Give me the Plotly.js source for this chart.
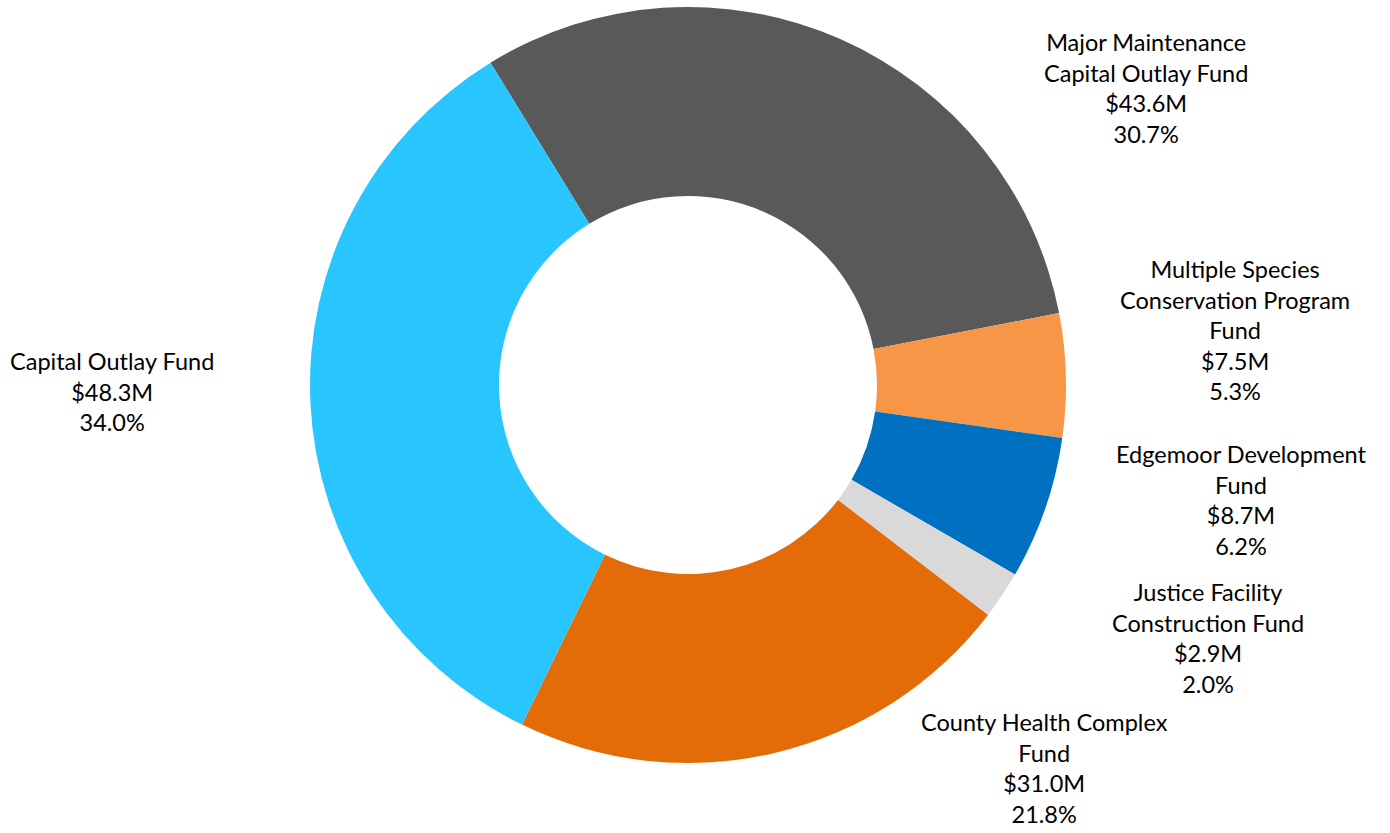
<!DOCTYPE html>
<html>
<head>
<meta charset="utf-8">
<script src="https://cdn.plot.ly/plotly-3.0.1.min.js"></script>
<style>html,body{margin:0;padding:0;background:#fff;}#chart{width:1390px;height:833px;}</style>
</head>
<body>
<div id="chart"></div>
<script>
const labels = ["Major Maintenance<br>Capital Outlay Fund", "Multiple Species<br>Conservation Program<br>Fund", "Edgemoor Development<br>Fund", "Justice Facility<br>Construction Fund", "County Health Complex<br>Fund", "Capital Outlay Fund"];
const valuesM = [43.6, 7.5, 8.7, 2.9, 31.0, 48.3];
const percents = ["30.7%", "5.3%", "6.2%", "2.0%", "21.8%", "34.0%"];
const colors = ["#595959", "#F79646", "#0070C0", "#D9D9D9", "#E36C09", "#29C5FF"];

// layout: label block centres in pixels (x from left, y from top)
const W = 1390, H = 833;
const labelPos = [[1146, 88], [1235, 330], [1241, 500], [1208, 638], [1044, 768], [112, 391]];

const texts = labels.map((l, i) => l + "<br>$" + valuesM[i].toFixed(1) + "M<br>" + percents[i]);

const annotations = texts.map((t, i) => ({
  text: t,
  xref: "paper", yref: "paper",
  x: labelPos[i][0] / W, y: 1 - labelPos[i][1] / H,
  xanchor: "center", yanchor: "middle", align: "center",
  showarrow: false,
  font: {family: "Lato, 'Noto Sans', sans-serif", size: 23.5, color: "#000"}
}));

Plotly.newPlot("chart", [{
  type: "pie",
  values: valuesM,
  labels: labels,
  textinfo: "none",
  hole: 0.5,
  sort: false,
  direction: "clockwise",
  rotation: -31.5,
  marker: {colors: colors, line: {width: 0}},
  domain: {x: [310/W, 1066/W], y: [70/H, 826/H]},
  showlegend: false
}], {
  width: W, height: H,
  margin: {l: 0, r: 0, t: 0, b: 0},
  paper_bgcolor: "#fff",
  showlegend: false,
  annotations: annotations
}, {displayModeBar: false, staticPlot: true});
</script>
</body>
</html>
